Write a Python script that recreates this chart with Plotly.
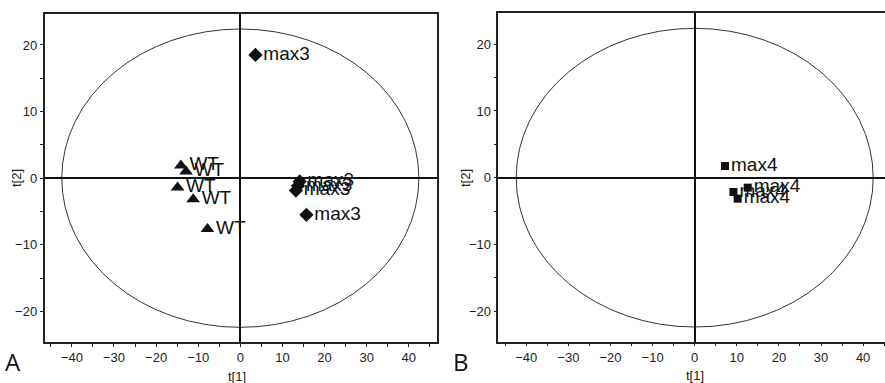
import plotly.graph_objects as go

# Panel A data
wt_x = [-14.1, -12.9, -14.9, -11.2, -7.8]
wt_y = [1.9, 1.0, -1.4, -3.15, -7.65]
max3_x = [3.6, 14.1, 13.7, 13.2, 15.7]
max3_y = [18.5, -0.5, -1.15, -1.85, -5.5]
# Panel B data
max4_x = [7.2, 12.6, 9.2, 10.2]
max4_y = [1.75, -1.5, -2.15, -3.15]

ellipse_a = 42.4
ellipse_b = 22.4
xrange_a = [-46.5, 46.7]
xrange_b = [-46.65, 45.2]
yrange = [-24.6, 24.65]

W, H = 885, 383
FONT = "Liberation Sans, Arial, sans-serif"
LABEL_FONT = dict(family=FONT, size=19, color="#111")

fig = go.Figure()

fig.add_trace(go.Scatter(x=wt_x, y=wt_y, mode="markers+text", text=["WT"] * len(wt_x),
                         textposition="middle right", textfont=LABEL_FONT,
                         marker=dict(symbol="triangle-up", size=12, color="#111"),
                         xaxis="x", yaxis="y", cliponaxis=False))
fig.add_trace(go.Scatter(x=max3_x, y=max3_y, mode="markers+text", text=["max3"] * len(max3_x),
                         textposition="middle right", textfont=LABEL_FONT,
                         marker=dict(symbol="diamond", size=11, color="#111"),
                         xaxis="x", yaxis="y", cliponaxis=False))
fig.add_trace(go.Scatter(x=max4_x, y=max4_y, mode="markers+text", text=["max4"] * len(max4_x),
                         textposition="middle right", textfont=LABEL_FONT,
                         marker=dict(symbol="square", size=8, color="#111"),
                         xaxis="x2", yaxis="y2", cliponaxis=False))

for xr, yr in (("x", "y"), ("x2", "y2")):
    fig.add_shape(type="circle", xref=xr, yref=yr,
                  x0=-ellipse_a, x1=ellipse_a, y0=-ellipse_b, y1=ellipse_b,
                  line=dict(color="#333", width=1), layer="below")

tickfont = dict(family=FONT, size=13, color="#222")
common_x = dict(dtick=10, tick0=0, ticks="outside", ticklen=3, tickcolor="#222",
                minor=dict(dtick=5, tick0=0, ticks="outside", ticklen=3, tickcolor="#222"),
                showgrid=False, zeroline=True, zerolinecolor="#111", zerolinewidth=2,
                showline=True, linecolor="#222", linewidth=1.5, tickfont=tickfont)
common_y = dict(dtick=10, tick0=0, ticks="outside", ticklen=3, tickcolor="#222",
                minor=dict(dtick=5, tick0=0, ticks="outside", ticklen=3, tickcolor="#222"),
                showgrid=False, zeroline=True, zerolinecolor="#111", zerolinewidth=2,
                showline=True, linecolor="#222", linewidth=1.5, tickfont=tickfont)

fig.update_layout(
    width=W, height=H, autosize=False,
    margin=dict(l=0, r=0, t=0, b=0),
    paper_bgcolor="white", plot_bgcolor="white",
    showlegend=False,
    xaxis=dict(common_x, domain=[44.5 / W, 437 / W], range=xrange_a, mirror=True, anchor="y"),
    yaxis=dict(common_y, domain=[(H - 342) / H, (H - 14) / H], range=yrange, mirror=True, anchor="x"),
    xaxis2=dict(common_x, domain=[498.3 / W, 1.0], range=xrange_b, mirror=True, anchor="y2"),
    yaxis2=dict(common_y, domain=[(H - 341.7) / H, (H - 13.3) / H], range=yrange, mirror=False, anchor="x2"),
)

annots = [
    dict(text="t[1]", x=237 / W, y=1 - 376 / H, font=dict(family=FONT, size=13, color="#222")),
    dict(text="t[1]", x=695 / W, y=1 - 375 / H, font=dict(family=FONT, size=13, color="#222")),
    dict(text="t[2]", x=16 / W, y=1 - 178 / H, textangle=-90, font=dict(family=FONT, size=13, color="#222")),
    dict(text="t[2]", x=465 / W, y=1 - 178 / H, textangle=-90, font=dict(family=FONT, size=13, color="#222")),
    dict(text="A", x=13 / W, y=1 - 361 / H, font=dict(family="Open Sans", size=24, color="#111")),
    dict(text="B", x=461 / W, y=1 - 361 / H, font=dict(family="Open Sans", size=24, color="#111")),
]
for a in annots:
    fig.add_annotation(xref="paper", yref="paper", showarrow=False,
                       xanchor="center", yanchor="middle", **a)

fig.write_html("out.html", config={"displayModeBar": False},
               post_script="document.body.style.margin='0px';document.body.style.overflow='hidden';")
